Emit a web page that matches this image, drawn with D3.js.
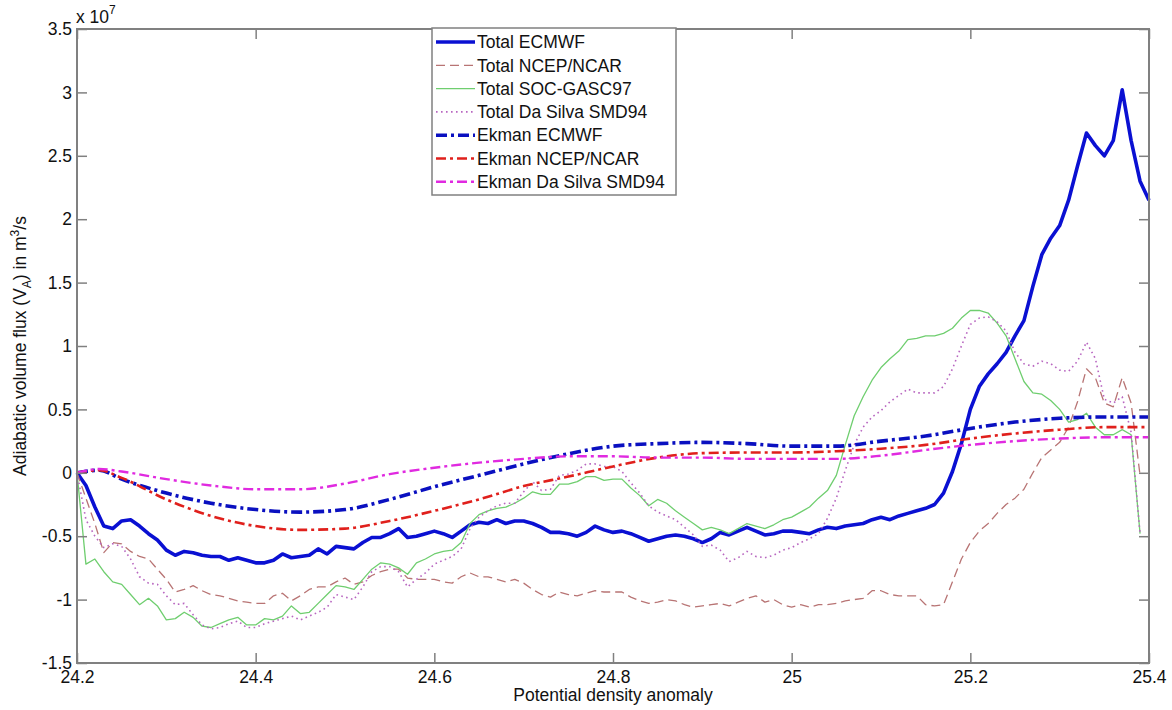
<!DOCTYPE html>
<html>
<head>
<meta charset="utf-8">
<script src="https://cdn.jsdelivr.net/npm/d3@7"></script>
<style>
  body { margin: 0; background: #fff; }
  text { font-family: "Liberation Sans", Arial, sans-serif; fill: #111; }
</style>
</head>
<body>
<svg id="chart" width="1172" height="710"></svg>
<script>
// potential density anomaly grid (0.01 steps) for the total fluxes
var sigma = [24.20,24.21,24.22,24.23,24.24,24.25,24.26,24.27,24.28,24.29,
  24.30,24.31,24.32,24.33,24.34,24.35,24.36,24.37,24.38,24.39,
  24.40,24.41,24.42,24.43,24.44,24.45,24.46,24.47,24.48,24.49,
  24.50,24.51,24.52,24.53,24.54,24.55,24.56,24.57,24.58,24.59,
  24.60,24.61,24.62,24.63,24.64,24.65,24.66,24.67,24.68,24.69,
  24.70,24.71,24.72,24.73,24.74,24.75,24.76,24.77,24.78,24.79,
  24.80,24.81,24.82,24.83,24.84,24.85,24.86,24.87,24.88,24.89,
  24.90,24.91,24.92,24.93,24.94,24.95,24.96,24.97,24.98,24.99,
  25.00,25.01,25.02,25.03,25.04,25.05,25.06,25.07,25.08,25.09,
  25.10,25.11,25.12,25.13,25.14,25.15,25.16,25.17,25.18,25.19,
  25.20,25.21,25.22,25.23,25.24,25.25,25.26,25.27,25.28,25.29,
  25.30,25.31,25.32,25.33,25.34,25.35,25.36,25.37,25.38,25.39,
  25.40];

// values in units of 1e7 m^3/s
var totalEcmwf = [0,-0.10,-0.27,-0.42,-0.44,-0.38,-0.37,-0.42,-0.48,-0.53,
  -0.61,-0.65,-0.62,-0.63,-0.65,-0.66,-0.66,-0.69,-0.67,-0.69,
  -0.71,-0.71,-0.69,-0.64,-0.67,-0.66,-0.65,-0.60,-0.64,-0.58,
  -0.59,-0.60,-0.55,-0.51,-0.51,-0.48,-0.44,-0.51,-0.50,-0.48,
  -0.46,-0.48,-0.51,-0.46,-0.41,-0.39,-0.40,-0.37,-0.40,-0.38,
  -0.38,-0.40,-0.43,-0.47,-0.47,-0.48,-0.50,-0.47,-0.42,-0.45,
  -0.47,-0.46,-0.48,-0.51,-0.54,-0.52,-0.50,-0.49,-0.50,-0.52,
  -0.55,-0.52,-0.47,-0.49,-0.46,-0.43,-0.46,-0.49,-0.48,-0.46,
  -0.46,-0.47,-0.48,-0.45,-0.43,-0.44,-0.42,-0.41,-0.40,-0.37,
  -0.35,-0.37,-0.34,-0.32,-0.30,-0.28,-0.25,-0.16,0.01,0.23,
  0.50,0.68,0.78,0.86,0.95,1.08,1.20,1.47,1.72,1.85,
  1.95,2.15,2.42,2.68,2.58,2.50,2.62,3.02,2.62,2.30,
  2.15];

var totalNcep = [0,-0.20,-0.40,-0.63,-0.55,-0.56,-0.62,-0.66,-0.68,-0.76,
  -0.84,-0.94,-0.92,-0.89,-0.93,-0.96,-0.97,-0.99,-1.01,-1.02,
  -1.03,-1.03,-0.97,-0.95,-1.01,-0.97,-0.92,-0.90,-0.90,-0.86,
  -0.83,-0.88,-0.86,-0.81,-0.78,-0.76,-0.76,-0.83,-0.84,-0.84,
  -0.84,-0.86,-0.87,-0.82,-0.79,-0.82,-0.82,-0.84,-0.86,-0.84,
  -0.87,-0.92,-0.96,-0.98,-0.94,-0.96,-0.97,-0.95,-0.93,-0.94,
  -0.94,-0.94,-0.98,-1.01,-1.03,-1.02,-1.00,-1.01,-1.04,-1.06,
  -1.05,-1.04,-1.03,-1.05,-1.02,-0.99,-0.97,-1.02,-1.00,-1.04,
  -1.06,-1.04,-1.06,-1.04,-1.04,-1.03,-1.01,-1.00,-0.99,-0.93,
  -0.93,-0.96,-0.97,-0.97,-0.97,-1.04,-1.05,-1.04,-0.86,-0.68,
  -0.55,-0.46,-0.40,-0.32,-0.25,-0.20,-0.13,0.00,0.12,0.18,
  0.24,0.36,0.56,0.82,0.75,0.55,0.52,0.75,0.55,-0.02,
  null];

var totalSoc = [0,-0.72,-0.68,-0.78,-0.86,-0.88,-0.96,-1.04,-0.99,-1.05,
  -1.16,-1.15,-1.10,-1.14,-1.21,-1.22,-1.19,-1.16,-1.14,-1.20,
  -1.20,-1.15,-1.16,-1.13,-1.05,-1.11,-1.10,-1.03,-0.96,-0.89,
  -0.90,-0.92,-0.84,-0.76,-0.71,-0.72,-0.75,-0.80,-0.71,-0.68,
  -0.64,-0.62,-0.61,-0.55,-0.40,-0.33,-0.30,-0.28,-0.27,-0.24,
  -0.20,-0.15,-0.17,-0.17,-0.09,-0.09,-0.07,-0.03,-0.03,-0.06,
  -0.05,-0.05,-0.12,-0.18,-0.26,-0.21,-0.24,-0.30,-0.35,-0.40,
  -0.45,-0.43,-0.45,-0.48,-0.44,-0.40,-0.42,-0.44,-0.41,-0.37,
  -0.35,-0.31,-0.27,-0.20,-0.14,-0.02,0.22,0.45,0.60,0.73,
  0.83,0.90,0.96,1.05,1.06,1.08,1.08,1.10,1.14,1.22,
  1.28,1.28,1.26,1.18,1.08,0.90,0.72,0.63,0.62,0.57,
  0.50,0.40,0.42,0.47,0.36,0.30,0.30,0.34,0.30,-0.48,
  null];

var totalDaSilva = [0,-0.37,-0.50,-0.59,-0.56,-0.58,-0.68,-0.82,-0.87,-0.88,
  -0.97,-1.04,-1.03,-1.12,-1.20,-1.23,-1.22,-1.19,-1.17,-1.22,
  -1.22,-1.19,-1.17,-1.15,-1.13,-1.16,-1.13,-1.10,-1.06,-0.96,
  -0.98,-1.00,-0.90,-0.78,-0.74,-0.74,-0.78,-0.90,-0.84,-0.79,
  -0.72,-0.69,-0.66,-0.60,-0.44,-0.35,-0.30,-0.26,-0.24,-0.24,
  -0.15,-0.07,-0.14,-0.13,-0.02,-0.01,0.02,0.07,0.07,0.05,
  0.05,0.01,-0.08,-0.16,-0.26,-0.31,-0.34,-0.37,-0.43,-0.49,
  -0.58,-0.57,-0.61,-0.70,-0.67,-0.62,-0.66,-0.67,-0.65,-0.61,
  -0.59,-0.55,-0.52,-0.48,-0.36,-0.20,0.02,0.22,0.36,0.44,
  0.49,0.56,0.61,0.66,0.63,0.63,0.63,0.68,0.82,1.00,
  1.17,1.22,1.23,1.19,1.12,0.95,0.86,0.84,0.88,0.86,
  0.81,0.80,0.88,1.03,0.90,0.58,0.55,0.60,0.32,-0.48,
  null];

// coarser grid for the smooth Ekman components
var ekSigma = [24.2,24.225,24.25,24.3,24.35,24.4,24.45,24.5,24.55,24.6,24.65,24.7,24.75,
  24.8,24.85,24.9,24.95,25.0,25.05,25.1,25.15,25.2,25.25,25.3,25.35,25.4];
var ekEcmwf = [0,0.02,-0.05,-0.16,-0.24,-0.29,-0.31,-0.29,-0.21,-0.11,-0.02,0.07,0.15,
  0.21,0.23,0.24,0.23,0.21,0.21,0.25,0.29,0.35,0.40,0.43,0.44,0.44];
var ekNcep = [0,0.02,-0.04,-0.21,-0.34,-0.42,-0.45,-0.44,-0.38,-0.30,-0.21,-0.105,-0.03,
  0.05,0.12,0.155,0.16,0.16,0.17,0.19,0.22,0.27,0.31,0.34,0.36,0.36];
var ekDaSilva = [0,0.03,0.01,-0.05,-0.10,-0.13,-0.13,-0.085,-0.01,0.04,0.08,0.11,0.13,
  0.13,0.12,0.12,0.11,0.11,0.11,0.135,0.18,0.22,0.25,0.27,0.28,0.28];

var xTicks = [24.2, 24.4, 24.6, 24.8, 25, 25.2, 25.4];
var yTicks = [-1.5, -1, -0.5, 0, 0.5, 1, 1.5, 2, 2.5, 3, 3.5];

var series = [
  {name: "Total ECMWF", xs: sigma, ys: totalEcmwf, color: "#0a10d2", width: 3.6, dash: null, smooth: false},
  {name: "Total NCEP/NCAR", xs: sigma, ys: totalNcep, color: "#b87474", width: 1.3, dash: "9,5", smooth: false},
  {name: "Total SOC-GASC97", xs: sigma, ys: totalSoc, color: "#6fce6f", width: 1.3, dash: null, smooth: false},
  {name: "Total Da Silva SMD94", xs: sigma, ys: totalDaSilva, color: "#b866c0", width: 1.6, dash: "1.6,3.4", smooth: false},
  {name: "Ekman ECMWF", xs: ekSigma, ys: ekEcmwf, color: "#0a10c0", width: 3.6, dash: "11,4,3,4", smooth: true},
  {name: "Ekman NCEP/NCAR", xs: ekSigma, ys: ekNcep, color: "#e0201c", width: 2.6, dash: "10,4,3,4", smooth: true},
  {name: "Ekman Da Silva SMD94", xs: ekSigma, ys: ekDaSilva, color: "#e02ae0", width: 2.4, dash: "10,4,3,4", smooth: true}
];

var svg = d3.select("#chart"),
    margin = {top: 29, right: 23, bottom: 47, left: 77},
    width = +svg.attr("width") - margin.left - margin.right,
    height = +svg.attr("height") - margin.top - margin.bottom,
    axisColor = "#808080";

svg.append("rect").attr("width", 1172).attr("height", 710).attr("fill", "#fff");

var x = d3.scaleLinear().domain([24.2, 25.4]).range([0, width]);
var y = d3.scaleLinear().domain([-1.5, 3.5]).range([height, 0]);

var g = svg.append("g")
    .attr("transform", "translate(" + margin.left + "," + margin.top + ")");

// data lines, in the order they were plotted
series.forEach(function(s) {
  var pts = s.xs.map(function(v, i) { return [v, s.ys[i]]; });
  var line = d3.line()
      .defined(function(d) { return d[1] != null; })
      .x(function(d) { return x(d[0]); })
      .y(function(d) { return y(d[1]); })
      .curve(s.smooth ? d3.curveMonotoneX : d3.curveLinear);
  g.append("path")
    .datum(pts)
    .attr("fill", "none")
    .attr("stroke", s.color)
    .attr("stroke-width", s.width)
    .attr("stroke-dasharray", s.dash)
    .attr("stroke-linejoin", "round")
    .attr("d", line);
});

// axes with inward ticks on all four sides
function styleAxis(sel) {
  sel.select(".domain").remove();
  sel.selectAll(".tick line").attr("stroke", axisColor).attr("stroke-width", 1.5);
  sel.selectAll(".tick text").attr("fill", "#111")
    .style("font-family", '"Liberation Sans", Arial, sans-serif')
    .style("font-size", "17.5px");
}
var fmt = function(d) { return String(d); };

g.append("g").attr("transform", "translate(0," + height + ")")
  .call(d3.axisBottom(x).tickValues(xTicks).tickFormat(fmt).tickSize(-10).tickPadding(8))
  .call(styleAxis);
g.append("g")
  .call(d3.axisLeft(y).tickValues(yTicks).tickFormat(fmt).tickSize(-10).tickPadding(5))
  .call(styleAxis);
g.append("g")
  .call(d3.axisTop(x).tickValues(xTicks).tickFormat("").tickSize(-10))
  .call(styleAxis);
g.append("g").attr("transform", "translate(" + width + ",0)")
  .call(d3.axisRight(y).tickValues(yTicks).tickFormat("").tickSize(-10))
  .call(styleAxis);

g.append("rect")
  .attr("width", width).attr("height", height)
  .attr("fill", "none").attr("stroke", axisColor).attr("stroke-width", 2);

// exponent label
var expo = svg.append("text").attr("x", 76).attr("y", 23).style("font-size", "17.5px");
expo.append("tspan").text("x 10");
expo.append("tspan").attr("dy", -9).style("font-size", "12px").text("7");

// axis titles
svg.append("text")
  .attr("x", margin.left + width / 2).attr("y", 701)
  .attr("text-anchor", "middle").style("font-size", "17.5px")
  .text("Potential density anomaly");

var yl = svg.append("text")
  .attr("transform", "translate(26," + (margin.top + height / 2) + ") rotate(-90)")
  .attr("text-anchor", "middle").style("font-size", "17.5px");
yl.append("tspan").text("Adiabatic volume flux (V");
yl.append("tspan").attr("dy", 5).style("font-size", "12px").text("A");
yl.append("tspan").attr("dy", -5).text(") in m");
yl.append("tspan").attr("dy", -7).style("font-size", "12px").text("3");
yl.append("tspan").attr("dy", 7).text("/s");

// legend
var lg = svg.append("g").attr("transform", "translate(432,28)");
lg.append("rect").attr("width", 244).attr("height", 167)
  .attr("fill", "#fff").attr("stroke", axisColor).attr("stroke-width", 1.5);
series.forEach(function(s, i) {
  var cy = 14 + i * 23.3;
  lg.append("line")
    .attr("x1", 4).attr("x2", 43).attr("y1", cy).attr("y2", cy)
    .attr("stroke", s.color).attr("stroke-width", s.width)
    .attr("stroke-dasharray", s.dash);
  lg.append("text").attr("x", 45).attr("y", cy + 6.2)
    .style("font-size", "17.5px").text(s.name);
});
</script>
</body>
</html>
